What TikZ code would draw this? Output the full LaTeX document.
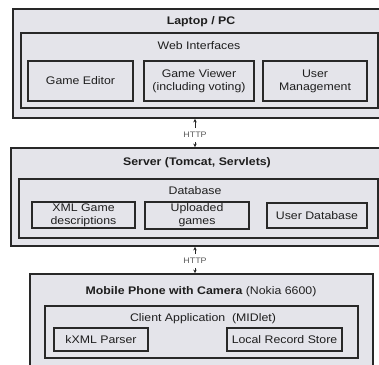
\documentclass[tikz,border=0pt]{standalone}
\usepackage{fontspec}
\setmainfont{Liberation Sans}[FakeStretch=1.12]
\usetikzlibrary{arrows.meta}
\definecolor{boxfill}{RGB}{228,228,234}
\definecolor{boxline}{RGB}{40,40,40}
\definecolor{txt}{RGB}{30,30,30}
\begin{document}
\begin{tikzpicture}[x=1pt,y=-1pt,
  box/.style={draw=boxline,fill=boxfill,line width=1.8pt,inner sep=0pt,
    align=center,text=txt,font=\fontsize{11}{13}\selectfont},
  ttl/.style={inner sep=0pt,text=txt,font=\fontsize{11}{13}\selectfont},
  httpl/.style={inner sep=4pt,text=black!65,font=\fontsize{8}{9}\selectfont},
  arr/.style={-{Stealth[length=3.5pt,width=3.5pt]},line width=0.9pt,draw=black!85}]
\useasboundingbox (0,0) rectangle (379,364);
% Laptop
\node[box,minimum width=372pt,minimum height=109pt] (laptop) at (199,63.5) {};
\node[ttl] (laptopT) at (201,22) {\textbf{Laptop / PC}};
\node[box,minimum width=357pt,minimum height=75pt] (web) at (199.5,70.5) {};
\node[ttl] (webT) at (199,46) {Web Interfaces};
\node[box,minimum width=105pt,minimum height=40pt] (editor) at (80.5,81) {Game Editor};
\node[box,minimum width=110pt,minimum height=40pt] (viewer) at (199,81) {Game Viewer\\(including voting)};
\node[box,minimum width=104pt,minimum height=40pt] (umgmt) at (315,81) {User\\Management};
% Server
\node[box,minimum width=374pt,minimum height=98pt] (server) at (198,197) {};
\node[ttl] (serverT) at (197,163) {\textbf{Server (Tomcat, Servlets)}};
\node[box,minimum width=359pt,minimum height=59pt] (db) at (198.5,208.5) {};
\node[ttl] (dbT) at (195,191) {Database};
\node[box,minimum width=103pt,minimum height=26pt] (xml) at (83.5,215) {XML Game\\descriptions};
\node[box,minimum width=104pt,minimum height=27pt] (upl) at (197,215.5) {Uploaded\\games};
\node[box,minimum width=100pt,minimum height=25pt] (udb) at (317,215.5) {User Database};
% Mobile
\node[box,minimum width=343pt,minimum height=98pt] (mobile) at (201.5,323) {};
\node[ttl] (mobileT) at (201,292) {\textbf{Mobile Phone with Camera} (Nokia 6600)};
\node[box,minimum width=313pt,minimum height=52pt] (client) at (201.5,332) {};
\node[ttl] (clientT) at (203,319) {Client Application~~(MIDlet)};
\node[box,minimum width=94pt,minimum height=23pt] (kxml) at (101,339.5) {kXML Parser};
\node[box,minimum width=115pt,minimum height=23pt] (lrs) at (284.5,339.5) {Local Record Store};
% HTTP connectors
\node[httpl] (http1) at (195,135) {HTTP};
\node[httpl] (http2) at (195,261) {HTTP};
\draw[arr] (http1.north) -- (laptop.south -| http1.north);
\draw[arr] (http1.south) -- (server.north -| http1.south);
\draw[arr] (http2.north) -- (server.south -| http2.north);
\draw[arr] (http2.south) -- (mobile.north -| http2.south);
\end{tikzpicture}
\end{document}
